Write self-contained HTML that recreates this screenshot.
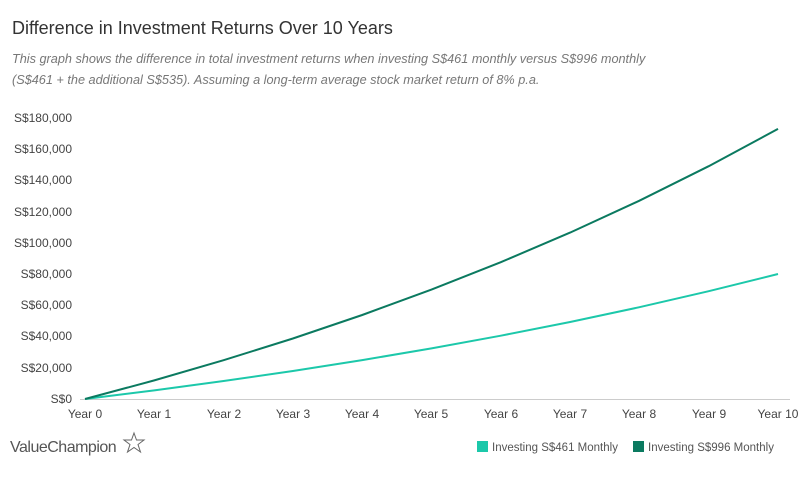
<!DOCTYPE html>
<html><head><meta charset="utf-8"><style>
body{margin:0;width:800px;height:472px;background:#fff;overflow:hidden;font-family:"Liberation Sans",sans-serif}
</style></head><body>
<svg width="800" height="472" xmlns="http://www.w3.org/2000/svg" font-family="Liberation Sans, sans-serif">
<text x="12" y="34" font-size="18" fill="#333">Difference in Investment Returns Over 10 Years</text>
<text x="12" y="63" font-size="12.7" fill="#777" font-style="italic">This graph shows the difference in total investment returns when investing S$461 monthly versus S$996 monthly</text>
<text x="12" y="84" font-size="12.7" fill="#777" font-style="italic">(S$461 + the additional S$535). Assuming a long-term average stock market return of 8% p.a.</text>
<g font-size="12" fill="#444" text-anchor="end">
<text x="72" y="122">S$180,000</text><text x="72" y="153">S$160,000</text><text x="72" y="184">S$140,000</text>
<text x="72" y="216">S$120,000</text><text x="72" y="247">S$100,000</text><text x="72" y="278">S$80,000</text>
<text x="72" y="309">S$60,000</text><text x="72" y="340">S$40,000</text><text x="72" y="372">S$20,000</text>
<text x="72" y="403">S$0</text></g>
<line x1="80" y1="399.5" x2="790" y2="399.5" stroke="#ccc"/>
<g font-size="12" fill="#444" text-anchor="middle">
<text x="85" y="418">Year 0</text><text x="154" y="418">Year 1</text><text x="224" y="418">Year 2</text><text x="293" y="418">Year 3</text><text x="362" y="418">Year 4</text><text x="431" y="418">Year 5</text><text x="501" y="418">Year 6</text><text x="570" y="418">Year 7</text><text x="639" y="418">Year 8</text><text x="709" y="418">Year 9</text><text x="778" y="418">Year 10</text></g>
<polyline fill="none" stroke="#1cc8aa" stroke-width="2" points="85,399 154.3,390.4 223.6,381 292.9,371 362.2,360.1 431.5,348.4 500.8,335.7 570.1,322 639.4,307.2 708.7,291.2 778,274"/>
<polyline fill="none" stroke="#0b7a60" stroke-width="2" points="85,399 154.3,380.4 223.6,360.2 292.9,338.5 362.2,315 431.5,289.6 500.8,262.2 570.1,232.6 639.4,200.7 708.7,166.2 778,128.9"/>
<text x="10" y="452" font-size="16" fill="#555" letter-spacing="-0.5">ValueChampion</text>
<polygon points="134,433 136.5,440 144,440 138,444.5 140.5,452 134,447.5 127.5,452 130,444.5 124,440 131.5,440" fill="none" stroke="#666" stroke-width="1"/>
<rect x="477" y="441" width="11" height="11" fill="#1cc8aa"/>
<text x="492" y="451" font-size="11.5" fill="#555">Investing S$461 Monthly</text>
<rect x="633" y="441" width="11" height="11" fill="#0b7a60"/>
<text x="648" y="451" font-size="11.5" fill="#555">Investing S$996 Monthly</text>
</svg>
</body></html>
